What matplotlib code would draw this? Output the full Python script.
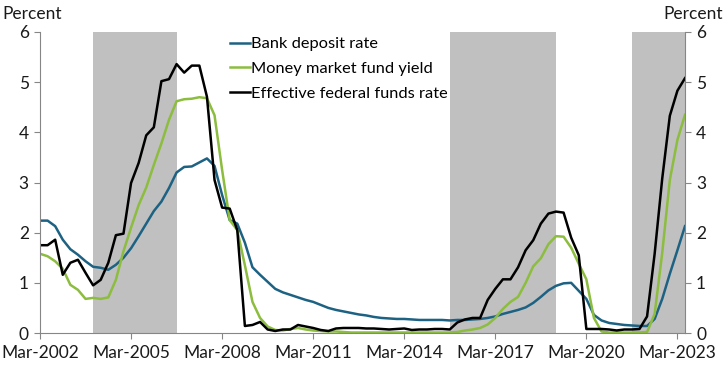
import matplotlib
matplotlib.use("Agg")
import matplotlib.pyplot as plt

plt.rcParams['font.family'] = ['Lato', 'DejaVu Sans']

# quarterly, Mar-2002 .. Jun-2023
deposit = [2.24, 2.24, 2.13, 1.86, 1.67, 1.56, 1.43, 1.32, 1.30, 1.26,
           1.36, 1.50, 1.69, 1.93, 2.18, 2.43, 2.62, 2.89, 3.20, 3.31,
           3.32, 3.40, 3.48, 3.33, 2.75, 2.25, 2.18, 1.80, 1.31, 1.16,
           1.02, 0.88, 0.81, 0.76, 0.71, 0.66, 0.62, 0.56, 0.50, 0.46,
           0.43, 0.40, 0.37, 0.35, 0.32, 0.30, 0.29, 0.28, 0.28, 0.27,
           0.26, 0.26, 0.26, 0.26, 0.25, 0.26, 0.26, 0.27, 0.28, 0.30,
           0.33, 0.38, 0.42, 0.46, 0.51, 0.60, 0.72, 0.85, 0.94, 0.99,
           1.00, 0.84, 0.68, 0.36, 0.25, 0.20, 0.18, 0.16, 0.15, 0.14,
           0.14, 0.28, 0.68, 1.18, 1.65, 2.13]
mmf = [1.58, 1.53, 1.43, 1.28, 0.96, 0.86, 0.68, 0.70, 0.68, 0.71,
       1.06, 1.63, 2.10, 2.55, 2.90, 3.35, 3.78, 4.25, 4.62, 4.66,
       4.67, 4.70, 4.68, 4.34, 3.25, 2.25, 2.05, 1.35, 0.62, 0.30,
       0.13, 0.06, 0.05, 0.08, 0.10, 0.07, 0.05, 0.04, 0.03, 0.03,
       0.02, 0.01, 0.01, 0.01, 0.01, 0.01, 0.01, 0.01, 0.01, 0.01,
       0.01, 0.01, 0.01, 0.01, 0.01, 0.02, 0.05, 0.07, 0.10, 0.17,
       0.30, 0.48, 0.62, 0.72, 1.00, 1.33, 1.49, 1.77, 1.93, 1.92,
       1.70, 1.38, 1.07, 0.30, 0.03, 0.01, 0.01, 0.01, 0.01, 0.01,
       0.02, 0.38, 1.60, 3.05, 3.85, 4.35]
effr = [1.75, 1.75, 1.86, 1.16, 1.40, 1.46, 1.20, 0.95, 1.06, 1.40,
        1.95, 1.98, 2.99, 3.39, 3.94, 4.10, 5.02, 5.06, 5.36, 5.19,
        5.33, 5.33, 4.71, 3.05, 2.50, 2.48, 2.05, 0.14, 0.16, 0.22,
        0.07, 0.04, 0.07, 0.07, 0.16, 0.13, 0.10, 0.06, 0.04, 0.09,
        0.10, 0.10, 0.10, 0.09, 0.09, 0.08, 0.07, 0.08, 0.09, 0.06,
        0.07, 0.07, 0.08, 0.08, 0.07, 0.21, 0.27, 0.30, 0.30, 0.66,
        0.88, 1.07, 1.07, 1.31, 1.65, 1.85, 2.18, 2.38, 2.42, 2.40,
        1.90, 1.55, 0.08, 0.08, 0.08, 0.07, 0.05, 0.07, 0.07, 0.08,
        0.33, 1.58, 3.08, 4.33, 4.83, 5.08]

tick_labels = ['Mar-2002', 'Mar-2005', 'Mar-2008', 'Mar-2011', 'Mar-2014',
               'Mar-2017', 'Mar-2020', 'Mar-2023']
# tightening periods, in quarters from Mar-2002
shaded = [(7, 18), (54, 68), (78, 85)]

q = list(range(len(effr)))

fig = plt.figure(figsize=(7.25, 3.69), dpi=100)
ax = fig.add_axes([40 / 725, 36 / 369, 645 / 725, 301 / 369])

for a, b in shaded:
    ax.axvspan(a, b, color='#c0c0c0', lw=0, zorder=0)

ax.plot(q, deposit, color='#1d6283', lw=1.8, label='Bank deposit rate')
ax.plot(q, mmf, color='#8cbd3e', lw=1.8, label='Money market fund yield')
ax.plot(q, effr, color='black', lw=1.8, label='Effective federal funds rate')

ax.set_xlim(0, 85)
ax.set_ylim(0, 6)
ax.set_xticks(range(0, 85, 12))
ax.set_xticklabels(tick_labels)
ax.set_yticks(range(7))

for s in ['left', 'right', 'bottom']:
    ax.spines[s].set_color('#868686')
ax.spines['top'].set_visible(False)
ax.tick_params(axis='both', direction='out', length=4, color='#868686',
               labelsize=12.5, labelcolor='#1a1a1a')
ax.tick_params(axis='y', right=True, labelright=True, pad=4)
ax.tick_params(axis='x', pad=5)

fig.text(2 / 725, 1 - 14 / 369, 'Percent', fontsize=12.5, va='center',
         ha='left', color='#1a1a1a')
fig.text(723 / 725, 1 - 14 / 369, 'Percent', fontsize=12.5, va='center',
         ha='right', color='#1a1a1a')

ax.legend(loc='upper left', bbox_to_anchor=(230 / 725, 1 - 37 / 369),
          bbox_transform=fig.transFigure, frameon=False, fontsize=11.8,
          handlelength=1.2, handletextpad=0.1, labelspacing=0.62,
          borderaxespad=0, borderpad=0)

fig.savefig('out.png', dpi=100)
